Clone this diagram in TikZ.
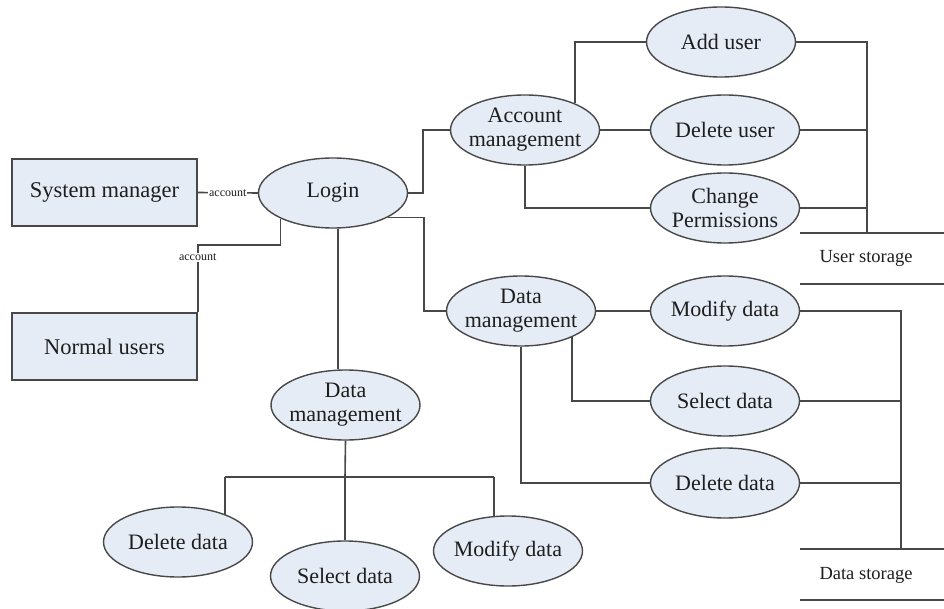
\documentclass[tikz,border=0pt]{standalone}
\usepackage{fontspec}
\setmainfont{Liberation Serif}
\usetikzlibrary{shapes.geometric,backgrounds,calc}
\pgfdeclarelayer{paper}
\pgfsetlayers{paper,background,main}
\definecolor{nodefill}{RGB}{230,236,246}
\definecolor{linecol}{RGB}{72,72,72}
\definecolor{txtcol}{RGB}{30,30,30}
\begin{document}
\begin{tikzpicture}[x=1pt,y=-1pt,
  proc/.style={ellipse, draw=linecol, line width=1.4pt, fill=nodefill, text=txtcol,
    minimum width=149pt, minimum height=70pt, inner xsep=-15pt, inner ysep=0pt, align=center,
    font=\fontsize{22}{24}\selectfont},
  ent/.style={rectangle, draw=linecol, line width=1.4pt, fill=nodefill, text=txtcol,
    minimum width=185pt, minimum height=67pt, inner sep=0pt,
    font=\fontsize{22.5}{24}\selectfont},
  conn/.style={draw=linecol, line width=1.6pt},
  lbl/.style={fill=white, inner sep=1pt, text=txtcol, font=\fontsize{12}{12}\selectfont},
  store/.style={font=\fontsize{18.5}{18.5}\selectfont, inner sep=0pt, text=txtcol},
]
\begin{pgfonlayer}{paper}
\fill[white] (0,0) rectangle (944,609);
\end{pgfonlayer}
\useasboundingbox (0,0) rectangle (944,609);

% nodes
\node[ent] (sm) at (104.5,192.5) {System manager};
\node[ent] (nu) at (104.5,346.5) {Normal users};
\node[proc] (login) at (333,193) {Login};
\node[proc] (acc) at (525,130) {Account\\management};
\node[proc] (add) at (721,42) {Add user};
\node[proc] (del) at (725,130) {Delete user};
\node[proc] (chg) at (725,208) {Change\\Permissions};
\node[proc] (dmr) at (521,311) {Data\\management};
\node[proc] (mdr) at (725,311) {Modify data};
\node[proc] (sdr) at (725,401) {Select data};
\node[proc] (ddr) at (725,483) {Delete data};
\node[proc] (dml) at (345.5,405) {Data\\management};
\node[proc] (ddl) at (178,542) {Delete data};
\node[proc] (sdl) at (345,576) {Select data};
\node[proc] (mdl) at (508,551) {Modify data};
\node[store] (us) at (866,258) {User storage};
\node[store] (ds) at (866,575) {Data storage};
\coordinate (ub) at (867,233);
\coordinate (db) at (901,549);
\coordinate (j) at (345,477);
\coordinate (jl) at (225,477);
\coordinate (jr) at (494,477);

% storage lines
\draw[conn] (800,233) -- (944,233);
\draw[conn] (800,284) -- (944,284);
\draw[conn] (800,549) -- (944,549);
\draw[conn] (800,600) -- (944,600);

\begin{pgfonlayer}{background}
% actors to login
\draw[conn] (sm.east) -- node[lbl]{account} (login.west);
\draw[conn] (nu.north east) -- node[lbl,pos=0.82]{account} ++(0,-67) -| (login.206);
% login branches
\draw[conn] (login.east) -- ++(15,0) |- (acc.west);
\draw[conn] (login.-24) -- ++(36,0) |- (dmr.west);
\draw[conn] ($(login.south)+(5,0)$) -- ($(dml.north)+(-7.5,0)$);
% account management
\draw[conn] (acc.28) |- (add.west);
\draw[conn] (acc.east) -- (del.west);
\draw[conn] (acc.south) |- (chg.west);
\draw[conn] (add.east) -| (ub);
\draw[conn] (del.east) -- (del.east -| ub);
\draw[conn] (chg.east) -- (chg.east -| ub);
% data management (right)
\draw[conn] (dmr.east) -- (mdr.west);
\draw[conn] (dmr.-27) |- (sdr.west);
\draw[conn] (dmr.south) |- (ddr.west);
\draw[conn] (mdr.east) -| (db);
\draw[conn] (sdr.east) -- (sdr.east -| db);
\draw[conn] (ddr.east) -- (ddr.east -| db);
% data management (left)
\draw[conn] (dml.south) -- (j);
\draw[conn] (jl) -- (jr);
\draw[conn] (jl) -- (jl |- ddl.center);
\draw[conn] (j) -- (sdl.north);
\draw[conn] (jr) -- (jr |- mdl.center);
\end{pgfonlayer}
\end{tikzpicture}
\end{document}
